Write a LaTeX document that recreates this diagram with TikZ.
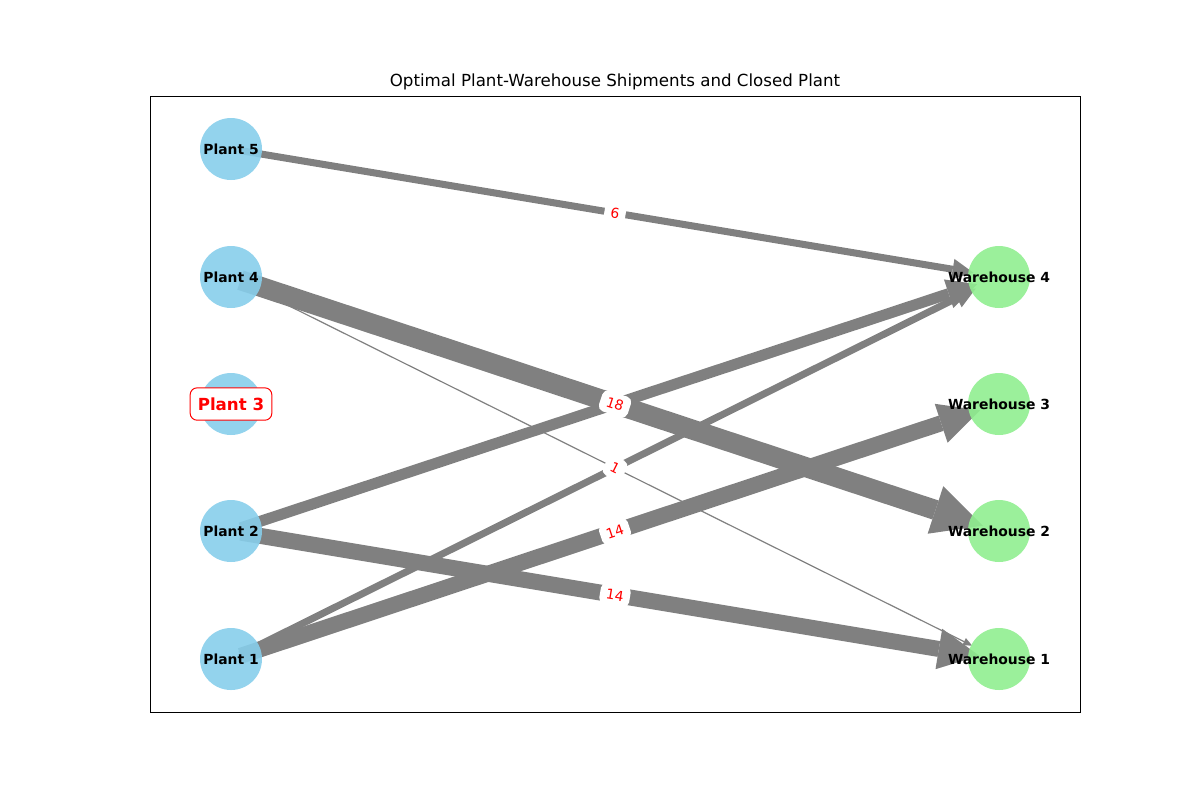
\documentclass[tikz,border=0pt]{standalone}
\usepackage{fontspec}
\setmainfont{DejaVu Sans}
\usetikzlibrary{arrows.meta,calc}
\pgfdeclarelayer{edges}
\pgfsetlayers{edges,main}
\definecolor{plantc}{HTML}{87CEEB}
\definecolor{whc}{HTML}{90EE90}
\definecolor{edgec}{HTML}{808080}
\begin{document}
\begin{tikzpicture}[x=0.72pt,y=-0.72pt,
  disc/.style={circle, fill opacity=0.9, minimum size=44.64pt, inner sep=0pt},
  plant/.style={disc, fill=plantc},
  wh/.style={disc, fill=whc},
  nlabel/.style={font=\bfseries\fontsize{10}{12}\selectfont, inner sep=0pt},
  flow/.style={draw=edgec},
  flowlabel/.style={fill=white, rounded corners=4pt, text=red, inner xsep=4.5pt, inner ysep=4pt, font=\fontsize{10}{12}\selectfont},
  closedbox/.style={draw=red, fill=white, rounded corners=5pt, text=red, line width=0.7pt, inner xsep=5.5pt, inner ysep=7pt, font=\bfseries\fontsize{12}{14}\selectfont},
 ]
\useasboundingbox (0,0) rectangle (1200,800);
\node[font=\fontsize{12}{14}\selectfont] (title) at (615,82) {Optimal Plant-Warehouse Shipments and Closed Plant};
\draw[line width=0.6pt] (150,96) rectangle (1080,712);

\node[plant, label={[nlabel]center:Plant 5}] (p5) at (231,149) {};
\node[plant, label={[nlabel]center:Plant 4}] (p4) at (231,277) {};
\node[plant] (p3) at (231,404) {};
\node[plant, label={[nlabel]center:Plant 2}] (p2) at (231,531) {};
\node[plant, label={[nlabel]center:Plant 1}] (p1) at (231,659) {};
\node[wh, label={[nlabel]center:Warehouse 4}] (w4) at (999,277) {};
\node[wh, label={[nlabel]center:Warehouse 3}] (w3) at (999,404) {};
\node[wh, label={[nlabel]center:Warehouse 2}] (w2) at (999,531) {};
\node[wh, label={[nlabel]center:Warehouse 1}] (w1) at (999,659) {};
\node[closedbox] (p3box) at (p3) {Plant 3};

\begin{pgfonlayer}{edges}
\draw[flow, line width=5.04pt, -{Triangle[length=15.1pt,width=15.1pt,line width=0pt]}] ($(p5)!7.2pt!(w4)$) -- ($(w4)!18.7pt!(p5)$);
\draw[flow, line width=14.4pt, -{Triangle[length=36pt,width=36pt,line width=0pt]}] ($(p4)!7.2pt!(w2)$) -- ($(w2)!12.2pt!(p4)$);
\draw[flow, line width=0.86pt, -{Triangle[length=6.5pt,width=5.8pt,line width=0pt]}] ($(p4)!7.2pt!(w1)$) -- ($(w1)!21.6pt!(p4)$);
\draw[flow, line width=7.9pt, -{Triangle[length=21.6pt,width=21.6pt,line width=0pt]}] ($(p2)!7.2pt!(w4)$) -- ($(w4)!16.6pt!(p2)$);
\draw[flow, line width=5.04pt, -{Triangle[length=15.1pt,width=15.1pt,line width=0pt]}] ($(p1)!7.2pt!(w4)$) -- ($(w4)!18.7pt!(p1)$);
\draw[flow, line width=11.5pt, -{Triangle[length=29.5pt,width=29.5pt,line width=0pt]}] ($(p1)!7.2pt!(w3)$) -- ($(w3)!14.4pt!(p1)$);
\draw[flow, line width=11.5pt, -{Triangle[length=29.5pt,width=29.5pt,line width=0pt]}] ($(p2)!7.2pt!(w1)$) -- ($(w1)!14.4pt!(p2)$);
\end{pgfonlayer}

\node[flowlabel, rotate=-9.46] (l6) at ($(p5)!0.5!(w4)$) {6};
\node[flowlabel, rotate=-18.23] (l18) at ($(p4)!0.5!(w2)$) {18};
\node[flowlabel, rotate=-26.45] (l1) at ($(p4)!0.5!(w1)$) {1};
\node[flowlabel, rotate=18.37] (l14a) at ($(p1)!0.5!(w3)$) {14};
\node[flowlabel, rotate=-9.46] (l14b) at ($(p2)!0.5!(w1)$) {14};
\end{tikzpicture}
\end{document}
